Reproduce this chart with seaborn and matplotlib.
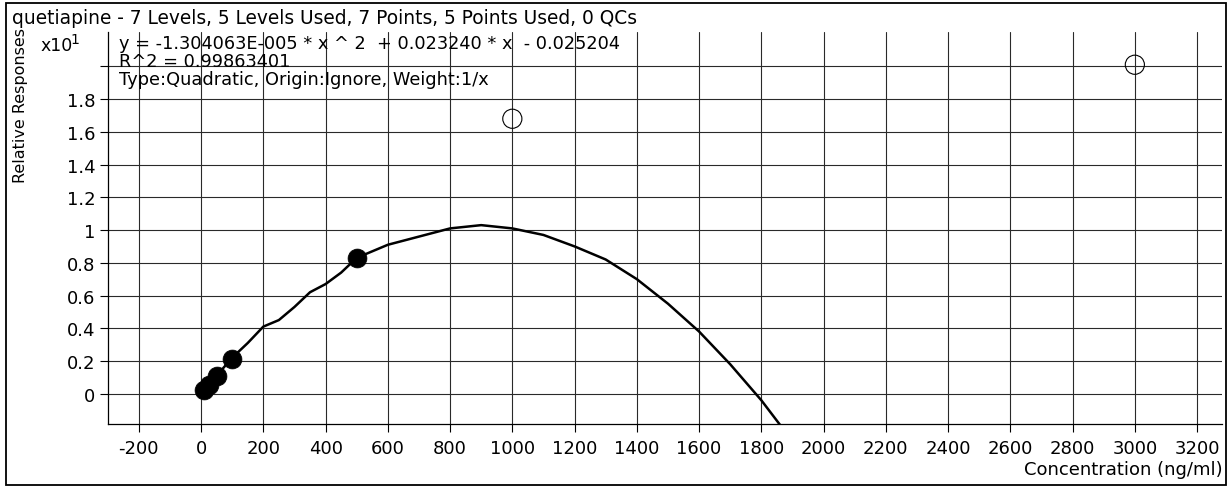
import matplotlib
matplotlib.use("Agg")
import matplotlib.pyplot as plt
import seaborn as sns
import pandas as pd
from matplotlib.patches import Rectangle

# ---- data ----
curve_x = [5, 50, 100, 150, 200, 250, 300, 350, 400, 450, 500, 600, 700, 800,
           900, 1000, 1100, 1200, 1300, 1400, 1500, 1600, 1700, 1800, 1860]
curve_y = [0.01, 0.11, 0.22, 0.31, 0.41, 0.45, 0.53, 0.62, 0.67, 0.74, 0.83,
           0.91, 0.96, 1.01, 1.03, 1.01, 0.97, 0.90, 0.82, 0.70, 0.55, 0.38,
           0.18, -0.04, -0.19]
used_x = [10, 25, 50, 100, 500]
used_y = [0.02, 0.055, 0.11, 0.21, 0.83]
excluded_x = [1000, 3000]
excluded_y = [1.68, 2.01]
x_ticks = list(range(-200, 3201, 200))
y_ticks = [0, 0.2, 0.4, 0.6, 0.8, 1.0, 1.2, 1.4, 1.6, 1.8, 2.0]
y_tick_labels = ["0", "0.2", "0.4", "0.6", "0.8", "1", "1.2", "1.4", "1.6", "1.8", ""]

title = "quetiapine - 7 Levels, 5 Levels Used, 7 Points, 5 Points Used, 0 QCs"
eq_lines = ["y = -1.304063E-005 * x ^ 2  + 0.023240 * x  - 0.025204",
            "R^2 = 0.99863401",
            "Type:Quadratic, Origin:Ignore, Weight:1/x"]

sns.set_style("white")
plt.rcParams["font.family"] = ["DejaVu Sans"]
plt.rcParams["text.color"] = "black"
plt.rcParams["axes.labelcolor"] = "black"
plt.rcParams["xtick.color"] = "black"
plt.rcParams["ytick.color"] = "black"

W, H = 1230, 489
fig = plt.figure(figsize=(W / 100, H / 100), dpi=100)

def fx(px):
    return px / W

def fy(py):
    return 1 - py / H

ax = fig.add_axes([fx(108), fy(425), fx(1222) - fx(108), fy(33) - fy(425)])

curve = pd.DataFrame({"x": curve_x, "y": curve_y})
sns.lineplot(data=curve, x="x", y="y", ax=ax, color="black", linewidth=1.8,
             sort=False, zorder=3)
sns.scatterplot(x=used_x, y=used_y, ax=ax, color="black", edgecolor="black",
                s=185, linewidth=0.5, zorder=4)
sns.scatterplot(x=excluded_x, y=excluded_y, ax=ax, marker="o",
                facecolors="none", edgecolors="black", s=190, linewidth=0.8,
                zorder=4)

ax.set_xlim(-299, 3280)
ax.set_ylim(-0.185, 2.21)
ax.set_xticks(x_ticks)
ax.set_xticklabels([str(v) for v in x_ticks], fontsize=13, color="black")
ax.set_yticks(y_ticks)
ax.set_yticklabels(y_tick_labels, fontsize=13, color="black")
ax.tick_params(axis="both", direction="out", length=6, width=0.8,
               colors="black", left=True, bottom=True)
ax.tick_params(axis="x", pad=5)
ax.tick_params(axis="y", pad=3)
ax.grid(True, color="#2a2a2a", linewidth=0.8)
ax.set_axisbelow(True)
for side in ["top", "right"]:
    ax.spines[side].set_visible(False)
for side in ["left", "bottom"]:
    ax.spines[side].set_color("black")
    ax.spines[side].set_linewidth(0.9)
ax.set_xlabel("")
ax.set_ylabel("")

# texts
fig.text(fx(12), fy(18), title, fontsize=13.4, ha="left", va="center",
         color="black")
for i, line in enumerate(eq_lines):
    fig.text(fx(119), fy(44 + 18 * i), line, fontsize=12.8, ha="left",
             va="center", color="black")
fig.text(fx(40), fy(46), "x10", fontsize=12.5, ha="left", va="center",
         color="black")
fig.text(fx(70), fy(40), "1", fontsize=10, ha="left", va="center",
         color="black")
fig.text(fx(21), fy(106), "Relative Responses", fontsize=11.5, rotation=90,
         ha="center", va="center", color="black")
fig.text(fx(1223), fy(470), "Concentration (ng/ml)", fontsize=13,
         ha="right", va="center", color="black")

# outer frame
fig.patches.append(Rectangle((fx(6), fy(486)), fx(1226) - fx(6),
                             fy(4) - fy(486), transform=fig.transFigure,
                             fill=False, edgecolor="black", linewidth=1.3))

fig.savefig("out.png", dpi=100)
